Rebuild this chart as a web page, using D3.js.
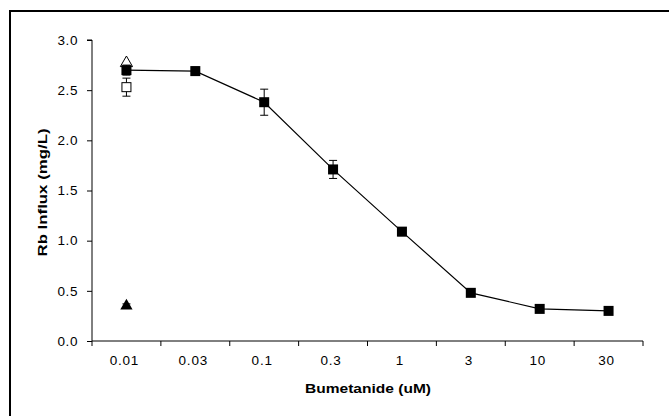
<!DOCTYPE html>
<html>
<head>
<meta charset="utf-8">
<script src="https://cdn.jsdelivr.net/npm/d3@7"></script>
<style>
  html, body { margin: 0; padding: 0; background: #fff; }
  svg { display: block; }
  text { font-family: "Liberation Sans", Arial, sans-serif; fill: #000; }
</style>
</head>
<body>
<svg id="chart" width="669" height="416"></svg>
<script>
// Bumetanide concentrations (uM), shown as equally spaced categories
const doses = ["0.01", "0.03", "0.1", "0.3", "1", "3", "10", "30"];
// Dose-response: mean Rb influx (mg/L) and error
const influx = [2.70, 2.69, 2.38, 1.71, 1.09, 0.48, 0.32, 0.30];
const influxErr = [0.05, 0.04, 0.13, 0.09, 0.04, 0.03, 0.02, 0.02];
// Single controls at the lowest dose position
const openTriangle = [2.77];
const openSquare = [2.53];
const openSquareErr = [0.09];
const filledTriangle = [0.35];
const filledTriangleErr = [0.02];
const yTicks = [0, 0.5, 1.0, 1.5, 2.0, 2.5, 3.0];

const svg = d3.select("#chart");

// Frame around the chart area
svg.append("path")
  .attr("d", "M10,416 V11 H669")
  .attr("fill", "none")
  .attr("stroke", "#000")
  .attr("stroke-width", 2);

const x = d3.scaleBand().domain(doses).range([92, 643]).padding(0);
const y = d3.scaleLinear().domain([0, 3]).range([341, 40]);
const cx = d => x(d) + x.bandwidth() / 2;

// Y axis
const yAxis = svg.append("g")
  .attr("transform", "translate(92,0)")
  .call(d3.axisLeft(y).tickValues(yTicks).tickFormat(d3.format(".1f")).tickSize(5).tickPadding(9));
yAxis.select(".domain").attr("stroke", "#000").attr("d", `M-5,${y(3)}H0V${y(0)}`);
yAxis.selectAll("text")
  .attr("font-size", 13.5)
  .attr("font-family", "Liberation Sans, Arial, sans-serif")
  .attr("letter-spacing", 0.6);

// X axis with ticks on category boundaries
const xAxis = svg.append("g").attr("transform", `translate(0,${y(0)})`);
xAxis.append("line")
  .attr("x1", 92).attr("x2", 643).attr("stroke", "#000");
const bounds = doses.map(d => x(d)).concat([x(doses[doses.length - 1]) + x.bandwidth()]);
xAxis.selectAll("line.tick").data(bounds).join("line")
  .attr("class", "tick")
  .attr("x1", d => d).attr("x2", d => d)
  .attr("y1", 0).attr("y2", 5)
  .attr("stroke", "#000");
xAxis.selectAll("text").data(doses).join("text")
  .attr("x", d => cx(d) - 2)
  .attr("y", 24)
  .attr("text-anchor", "middle")
  .attr("font-size", 13.5)
  .attr("letter-spacing", 0.8)
  .text(d => d);

// Axis titles
svg.append("text")
  .attr("x", 368).attr("y", 393)
  .attr("text-anchor", "middle")
  .attr("font-size", 13.5).attr("font-weight", "bold")
  .attr("textLength", 126).attr("lengthAdjust", "spacingAndGlyphs")
  .text("Bumetanide (uM)");
svg.append("text")
  .attr("transform", `translate(47,${(y(0) + y(3)) / 2 + 2}) rotate(-90)`)
  .attr("text-anchor", "middle")
  .attr("font-size", 13.5).attr("font-weight", "bold")
  .attr("textLength", 128).attr("lengthAdjust", "spacingAndGlyphs")
  .text("Rb Influx (mg/L)");

// Error bar helper
function errorBars(g, xs, vals, errs) {
  const data = vals.map((v, i) => ({ x: xs[i], v, e: errs[i] }));
  const grp = g.append("g").attr("stroke", "#000").attr("stroke-width", 1);
  data.forEach(d => {
    grp.append("line").attr("x1", d.x).attr("x2", d.x).attr("y1", y(d.v - d.e)).attr("y2", y(d.v + d.e));
    grp.append("line").attr("x1", d.x - 4).attr("x2", d.x + 4).attr("y1", y(d.v - d.e)).attr("y2", y(d.v - d.e));
    grp.append("line").attr("x1", d.x - 4).attr("x2", d.x + 4).attr("y1", y(d.v + d.e)).attr("y2", y(d.v + d.e));
  });
}

const plot = svg.append("g");
const x0 = cx(doses[0]);

// Open square control
errorBars(plot, [x0], openSquare, openSquareErr);
plot.selectAll("rect.os").data(openSquare).join("rect")
  .attr("class", "os")
  .attr("x", x0 - 4.5).attr("y", d => y(d) - 4.5)
  .attr("width", 9).attr("height", 9)
  .attr("fill", "#fff").attr("stroke", "#000");

// Open triangle control
const tri = d3.symbol().type(d3.symbolTriangle).size(65);
plot.selectAll("path.ot").data(openTriangle).join("path")
  .attr("class", "ot")
  .attr("d", tri)
  .attr("transform", d => `translate(${x0},${y(d)})`)
  .attr("fill", "#fff").attr("stroke", "#000");

// Filled triangle control
errorBars(plot, [x0], filledTriangle, filledTriangleErr);
plot.selectAll("path.ft").data(filledTriangle).join("path")
  .attr("class", "ft")
  .attr("d", tri)
  .attr("transform", d => `translate(${x0},${y(d)})`)
  .attr("fill", "#000");

// Dose-response curve
errorBars(plot, doses.map(cx), influx, influxErr);
plot.append("path")
  .datum(influx)
  .attr("fill", "none").attr("stroke", "#000").attr("stroke-width", 1.2)
  .attr("d", d3.line().x((d, i) => cx(doses[i])).y(d => y(d)));
plot.selectAll("rect.fs").data(influx).join("rect")
  .attr("class", "fs")
  .attr("x", (d, i) => cx(doses[i]) - 5).attr("y", d => y(d) - 5)
  .attr("width", 10).attr("height", 10)
  .attr("fill", "#000");
</script>
</body>
</html>
